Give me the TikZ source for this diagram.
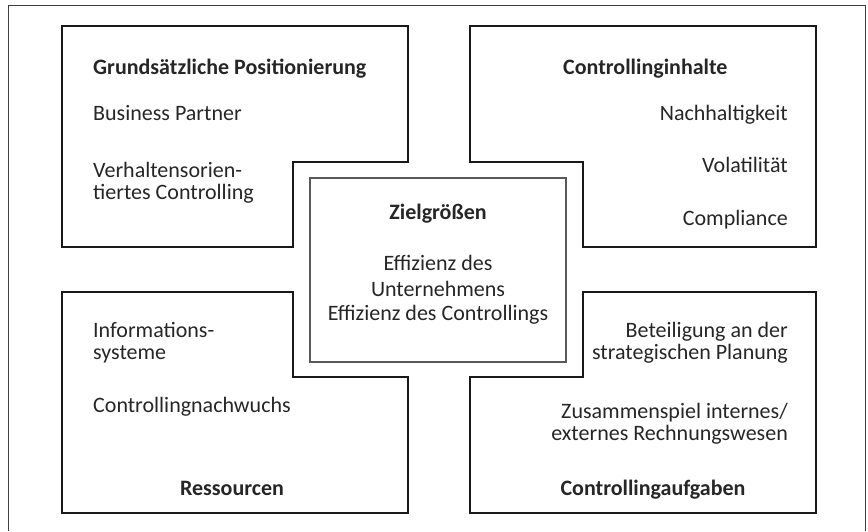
\documentclass[tikz,border=0pt]{standalone}
\usepackage{fontspec}
\setmainfont{Carlito}
\usetikzlibrary{positioning}

\tikzset{
    boxline/.style={line width=1.2pt, draw=black!90},
    midline/.style={line width=1.2pt, draw=black!65},
    txt/.style={inner sep=0pt, font=\fontsize{22}{23}\selectfont, text=black!85},
    headtxt/.style={txt, font=\fontsize{22}{23}\selectfont\bfseries},
}

\begin{document}
\begin{tikzpicture}[x=1pt, y=-1pt]
    \useasboundingbox (0,0) rectangle (868,531);

    % outer frame (cut off at the bottom)
    \draw[line width=1pt, black!75] (8,531) -- (8,5) -- (865,5) -- (865,531);

    % the four corner boxes with their notches
    \draw[boxline] (62,26) -- (408,26) -- (408,162) -- (293,162) -- (293,247) -- (62,247) -- cycle;
    \draw[boxline] (470,26) -- (816,26) -- (816,247) -- (583,247) -- (583,162) -- (470,162) -- cycle;
    \draw[boxline] (62,292) -- (293,292) -- (293,377) -- (408,377) -- (408,513) -- (62,513) -- cycle;
    \draw[boxline] (470,377) -- (583,377) -- (583,292) -- (816,292) -- (816,513) -- (470,513) -- cycle;

    % central box
    \draw[midline] (310,178) rectangle (566,362);

    % top left
    \node[headtxt, anchor=base west] (posTitle) at (93,74) {Grundsätzliche Positionierung};
    \node[txt, anchor=base west] (bizPartner) at (93,120) {Business Partner};
    \node[txt, anchor=base west] (verhA) at (93,177) {Verhaltensorien-};
    \node[txt, anchor=base west] (verhB) at (93,199) {tiertes Controlling};

    % top right
    \node[headtxt, anchor=base west] (inhTitle) at (563,74) {Controllinginhalte};
    \node[txt, anchor=base east] (nachhalt) at (788,120) {Nachhaltigkeit};
    \node[txt, anchor=base east] (volat) at (788,172) {Volatilität};
    \node[txt, anchor=base east] (compl) at (788,225) {Compliance};

    % centre
    \node[headtxt, anchor=base] (zielTitle) at (438,219) {Zielgrößen};
    \node[txt, anchor=base] (effA) at (438,270) {Effizienz des};
    \node[txt, anchor=base] (effB) at (438,296) {Unternehmens};
    \node[txt, anchor=base] (effC) at (438,320) {Effizienz des Controllings};

    % bottom left
    \node[txt, anchor=base west] (infoA) at (93,337) {Informations-};
    \node[txt, anchor=base west] (infoB) at (93,359) {systeme};
    \node[txt, anchor=base west] (nachw) at (93,412) {Controllingnachwuchs};
    \node[headtxt, anchor=base] (resTitle) at (232,495) {Ressourcen};

    % bottom right
    \node[txt, anchor=base east] (betA) at (788,337) {Beteiligung an der};
    \node[txt, anchor=base east] (betB) at (788,359) {strategischen Planung};
    \node[txt, anchor=base east] (zusA) at (788,418) {Zusammenspiel internes/};
    \node[txt, anchor=base east] (zusB) at (788,440) {externes Rechnungswesen};
    \node[headtxt, anchor=base] (aufgTitle) at (653,495) {Controllingaufgaben};
\end{tikzpicture}
\end{document}
